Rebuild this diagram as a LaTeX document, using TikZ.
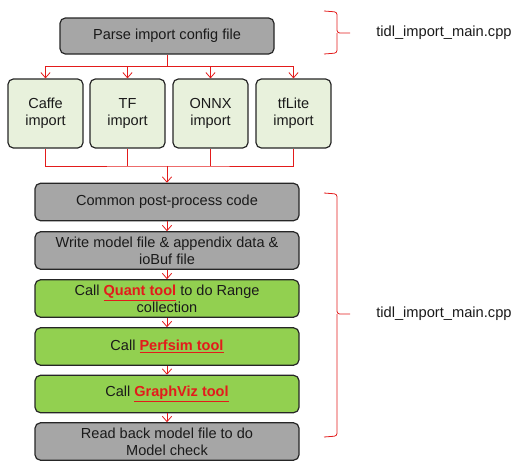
\documentclass[tikz,border=0pt]{standalone}
\usepackage{fontspec}
\setmainfont{Liberation Sans}
\usetikzlibrary{arrows.meta}
\definecolor{lred}{HTML}{E31B1B}
\definecolor{gbox}{HTML}{A6A6A6}
\definecolor{lgreen}{HTML}{E8F1DC}
\definecolor{ggreen}{HTML}{92D050}
\definecolor{txt}{HTML}{1A1A1A}
\newcommand{\tool}[1]{\textcolor{lred}{\underline{\textbf{#1}}}}
\begin{document}
\begin{tikzpicture}[x=0.75pt,y=-0.75pt,
  font=\fontsize{10.9}{12.75}\selectfont,
  box/.style={draw=black!85,line width=0.9pt,rounded corners=4pt,align=center,text=txt,inner sep=1pt},
  big/.style={box,minimum width=198pt,minimum height=28pt},
  imp/.style={box,fill=lgreen,minimum width=56.25pt,minimum height=51.75pt},
  arr/.style={draw=lred,line width=0.6pt,-{Straight Barb[length=4pt,width=7pt]}},
  ln/.style={draw=lred,line width=0.6pt},
  brace/.style={draw=lred,line width=0.6pt,rounded corners=2pt}]
\useasboundingbox (0,0) rectangle (516,464);
\node[box,fill=gbox,minimum width=160.5pt,minimum height=27pt] (parse) at (167,36) {Parse import config file};
\node[imp] (caffe) at (45.5,113.5) {Caffe\\import};
\node[imp] (tf) at (127.5,113.5) {TF\\import};
\node[imp] (onnx) at (210.5,113.5) {ONNX\\import};
\node[imp] (tflite) at (293.5,113.5) {tfLite\\import};
\node[big,fill=gbox] (common) at (167,202) {Common post-process code};
\node[big,fill=gbox] (write) at (167,250.5) {Write model file \& appendix data \&\\ioBuf file};
\node[big,fill=ggreen] (quant) at (167,298.5) {Call \tool{Quant tool} to do Range\\collection};
\node[big,fill=ggreen] (perf) at (167,346.5) {Call \tool{Perfsim tool}};
\node[big,fill=ggreen] (graph) at (167,394) {Call \tool{GraphViz tool}};
\node[big,fill=gbox] (read) at (167,441.5) {Read back model file to do\\Model check};
% top fan-out
\coordinate (j1) at (167,66);
\draw[ln] (parse.south) -- (j1);
\draw[ln] (caffe.north |- j1) -- (tflite.north |- j1);
\foreach \n in {caffe,tf,onnx,tflite} \draw[arr] (\n.north |- j1) -- (\n.north);
% bottom merge
\coordinate (j2) at (167,166);
\draw[ln] (caffe.south) |- (j2) -| (tflite.south);
\draw[ln] (tf.south) -- (tf.south |- j2);
\draw[ln] (onnx.south) -- (onnx.south |- j2);
\draw[arr] (j2) -- (common.north);
\draw[arr] (common.south) -- (write.north);
\draw[arr] (write.south) -- (quant.north);
\draw[arr] (quant.south) -- (perf.north);
\draw[arr] (perf.south) -- (graph.north);
\draw[arr] (graph.south) -- (read.north);
% braces
\coordinate (b1t) at (324,11);
\coordinate (b1m) at (350,33);
\coordinate (b1b) at (324,54);
\draw[brace] (b1t) -- (337,12) -- (337,33) -- (b1m);
\draw[brace] (337,33) -- (337,53) -- (b1b);
\node[anchor=west,text=txt,inner sep=0pt,font=\fontsize{11}{13}\selectfont] (f1) at (376,33) {tidl\_import\_main.cpp};
\coordinate (b2t) at (324,193);
\coordinate (b2m) at (350,314);
\coordinate (b2b) at (324,437);
\draw[brace] (b2t) -- (337,194) -- (337,314) -- (b2m);
\draw[brace] (337,314) -- (337,436) -- (b2b);
\node[anchor=west,text=txt,inner sep=0pt,font=\fontsize{11}{13}\selectfont] (f2) at (376,314) {tidl\_import\_main.cpp};
\end{tikzpicture}
\end{document}
